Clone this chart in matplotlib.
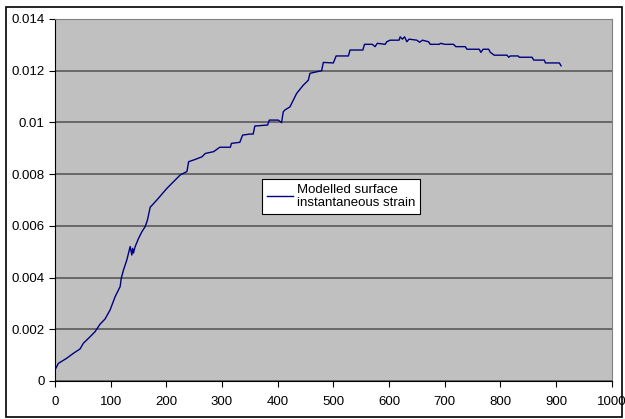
import matplotlib.pyplot as plt
from matplotlib.patches import Rectangle

# (time, strain) pairs
points = [
    (0, 0.00043), (6, 0.00068), (21, 0.00088), (33, 0.00107), (45, 0.00124),
    (51, 0.00146), (63, 0.00171), (72, 0.00191), (81, 0.0022), (90, 0.0024),
    (99, 0.00275), (108, 0.00326), (117, 0.00365), (119, 0.00397), (123, 0.00429),
    (129, 0.00468), (135, 0.0052), (138, 0.00487), (139.5, 0.00513), (141, 0.00495),
    (144, 0.0052), (150, 0.00551), (156, 0.00577), (162, 0.00597), (166, 0.00622),
    (171, 0.00672), (183, 0.0070), (201, 0.00745), (207, 0.00758), (225, 0.00797),
    (237, 0.0081), (240, 0.00848), (252, 0.00857), (264, 0.00867), (270, 0.0088),
    (285, 0.00887), (296, 0.00904), (315, 0.00904), (317, 0.00919), (332, 0.00923),
    (337, 0.00951), (350, 0.00955), (356, 0.00955), (359, 0.00986), (382, 0.0099),
    (385, 0.01009), (401, 0.01009), (407, 0.00999), (410, 0.01041), (413, 0.01048),
    (422, 0.0106), (434, 0.01112), (446, 0.01144), (455, 0.01163), (458, 0.0119),
    (479, 0.012), (482, 0.01232), (500, 0.0123), (505, 0.01257), (527, 0.01257),
    (530, 0.0128), (553, 0.0128), (556, 0.01302), (570, 0.01302), (575, 0.01293),
    (579, 0.01306), (593, 0.01302), (596, 0.01312), (602, 0.01318), (618, 0.01318),
    (620, 0.01331), (624, 0.01322), (628, 0.01331), (632, 0.01312), (636, 0.01322),
    (650, 0.01318), (655, 0.0131), (660, 0.01318), (671, 0.01312), (674, 0.01302),
    (690, 0.01302), (693, 0.01306), (700, 0.01302), (716, 0.01302), (720, 0.01293),
    (737, 0.01293), (740, 0.01283), (762, 0.01283), (765, 0.01271), (769, 0.01283),
    (779, 0.01283), (782, 0.01271), (789, 0.0126), (812, 0.0126), (815, 0.01252),
    (818, 0.01257), (832, 0.01257), (834, 0.01252), (857, 0.01252), (860, 0.01241),
    (879, 0.01241), (881, 0.0123), (906, 0.0123), (909, 0.01219),
]
x_vals = [p[0] for p in points]
y_vals = [p[1] for p in points]

series_label = "Modelled surface\ninstantaneous strain"
x_ticks = list(range(0, 1001, 100))
y_ticks = [0, 0.002, 0.004, 0.006, 0.008, 0.01, 0.012, 0.014]
y_labels = ["0", "0.002", "0.004", "0.006", "0.008", "0.01", "0.012", "0.014"]

plt.rcParams['font.family'] = ['Liberation Sans', 'DejaVu Sans']

fig = plt.figure(figsize=(6.25, 4.19), dpi=100)
ax = fig.add_axes([0.088, 0.0907, 0.8907, 0.864])
ax.set_facecolor('#c0c0c0')

ax.plot(x_vals, y_vals, color='#000080', lw=1.0, label=series_label)

ax.set_xlim(0, 1000)
ax.set_ylim(0, 0.014)
ax.set_xticks(x_ticks)
ax.set_yticks(y_ticks)
ax.set_yticklabels(y_labels)
ax.tick_params(direction='out', length=4, width=0.8, labelsize=9.5, color='black')
ax.tick_params(axis='x', pad=7)
ax.grid(axis='y', color='#505050', lw=1.1)
ax.set_axisbelow(True)

for s in ['top', 'right']:
    ax.spines[s].set_color('#808080')
for s in ['left', 'bottom']:
    ax.spines[s].set_color('black')

leg = ax.legend(loc='upper left', bbox_to_anchor=(0.372, 0.558), borderaxespad=0,
                fancybox=False, edgecolor='black', framealpha=1, fontsize=9.5,
                handlelength=2.0, handletextpad=0.3, borderpad=0.35)
leg.get_frame().set_linewidth(0.8)

# outer chart border
fig.patches.append(Rectangle((6 / 625, 2 / 419), 616 / 625, 410 / 419,
                             transform=fig.transFigure, fill=False,
                             edgecolor='black', lw=1.2))

fig.savefig('out.png', dpi=100)
